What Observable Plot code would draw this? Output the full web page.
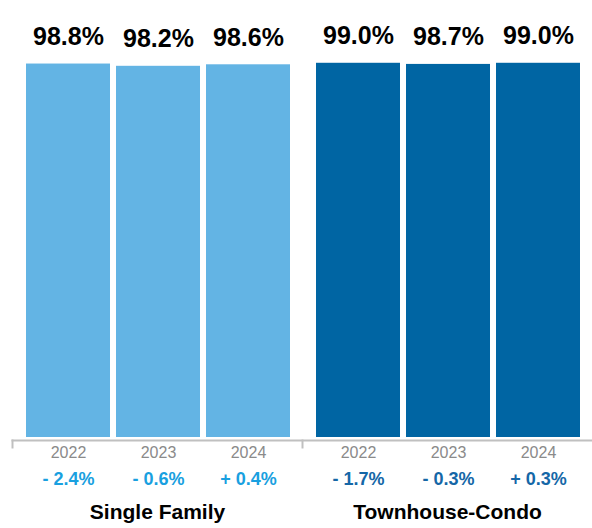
<!DOCTYPE html>
<html>
<head>
<meta charset="utf-8">
<script src="https://cdn.jsdelivr.net/npm/d3@7"></script>
<script src="https://cdn.jsdelivr.net/npm/@observablehq/plot@0.6"></script>
<style>
  html, body { margin: 0; padding: 0; background: #fff; }
</style>
</head>
<body>
<div id="chart"></div>
<script>
const groups = ["Single Family", "Townhouse-Condo"];
const years = ["2022", "2023", "2024"];
const singleFamily = [98.8, 98.2, 98.6];
const townhouseCondo = [99.0, 98.7, 99.0];
const singleFamilyChange = [-2.4, -0.6, 0.4];
const townhouseCondoChange = [-1.7, -0.3, 0.3];

const barColors = ["#63b4e4", "#0065a3"];
const changeColors = ["#19a0e0", "#1567a7"];

const table = [];
groups.forEach((g, gi) => {
  const vals = gi === 0 ? singleFamily : townhouseCondo;
  const chg = gi === 0 ? singleFamilyChange : townhouseCondoChange;
  years.forEach((y, i) => table.push({group: g, year: y, value: vals[i], change: chg[i]}));
});

const fmtChange = v => (v < 0 ? "- " : "+ ") + Math.abs(v).toFixed(1) + "%";

const chart = Plot.plot({
  width: 592,
  height: 528,
  marginLeft: 12,
  marginRight: 0,
  marginTop: 59,
  marginBottom: 91,
  style: {fontFamily: "'Liberation Sans', Arial, Helvetica, sans-serif", background: "white", overflow: "visible"},
  fx: {domain: groups, padding: 0, axis: null},
  x: {domain: years, paddingInner: 0.0667, paddingOuter: 0.144, align: 0.55, axis: null},
  y: {domain: [0, 100], axis: null},
  color: {domain: groups, range: barColors},
  marks: [
    Plot.barY(table, {fx: "group", x: "year", y: "value", fill: "group"}),
    Plot.text(table, {
      fx: "group", x: "year", y: "value",
      text: d => d.value.toFixed(1) + "%",
      lineAnchor: "bottom", dy: -19,
      fontSize: 25, fontWeight: "bold", fill: "#000"
    }),
    Plot.frame({facet: "super", anchor: "bottom", stroke: "#c0c0c0", strokeWidth: 2, dy: 3}),
    Plot.frame({anchor: "left", insetTop: 381, insetBottom: -10, stroke: "#c0c0c0", strokeWidth: 2}),
    Plot.text(table, {
      fx: "group", x: "year", text: "year",
      frameAnchor: "bottom", lineAnchor: "middle", dy: 15.5,
      fontSize: 16, fill: "#8a8a8a"
    }),
    Plot.text(table.filter(d => d.group === groups[0]), {
      fx: "group", x: "year", text: d => fmtChange(d.change),
      frameAnchor: "bottom", lineAnchor: "middle", dy: 42,
      fontSize: 18, fontWeight: "bold", fill: changeColors[0]
    }),
    Plot.text(table.filter(d => d.group === groups[1]), {
      fx: "group", x: "year", text: d => fmtChange(d.change),
      frameAnchor: "bottom", lineAnchor: "middle", dy: 42,
      fontSize: 18, fontWeight: "bold", fill: changeColors[1]
    }),
    Plot.text(groups, {
      fx: d => d, text: d => d,
      frameAnchor: "bottom", lineAnchor: "middle", dy: 75,
      fontSize: 21, fontWeight: "bold", fill: "#000"
    })
  ]
});
document.getElementById("chart").append(chart);
</script>
</body>
</html>
